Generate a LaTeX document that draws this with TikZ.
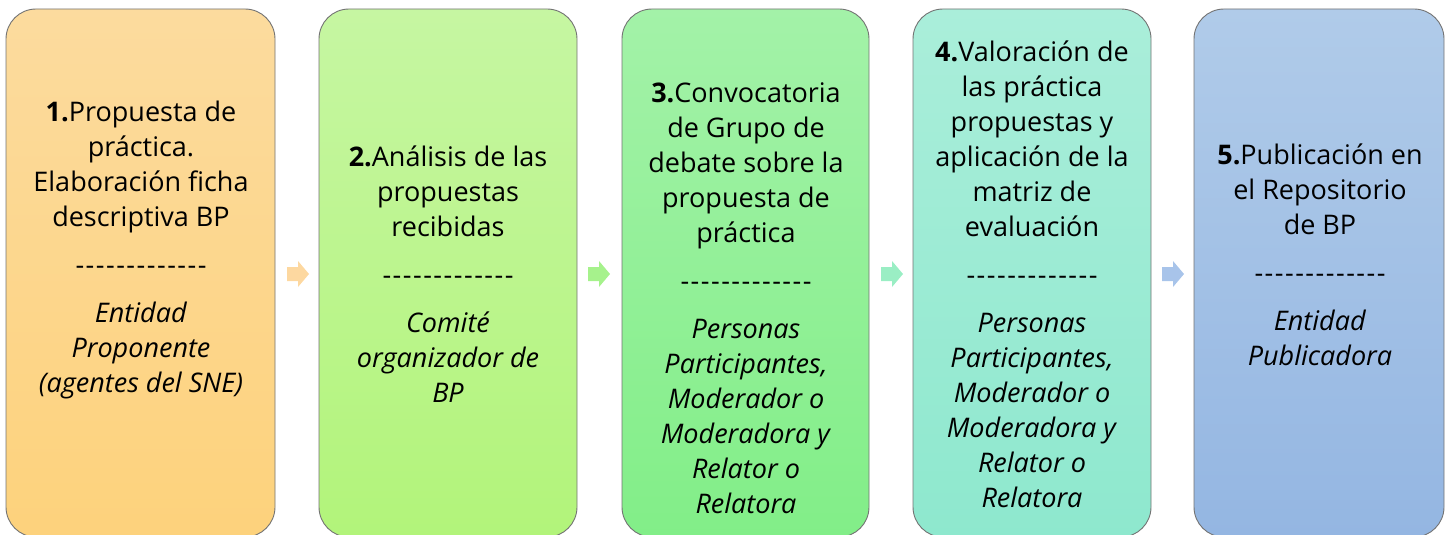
\documentclass[tikz,border=0pt]{standalone}
\usepackage{fontspec}
\setmainfont{Open Sans}
\newcommand{\dashrow}{-\foreach \k in {1,...,12}{\hspace{1.5pt}-}}
\begin{document}
\begin{tikzpicture}[x=1pt,y=-1pt,
  stepbox/.style={rounded corners=30pt, draw=black!55, line width=0.9pt},
  txt/.style={align=center, font=\fontsize{27}{35}\selectfont, inner sep=0pt}]
\useasboundingbox (0,0) rectangle (1450,535);
\clip (0,0) rectangle (1450,535);
\definecolor{c1t}{RGB}{252,219,158}\definecolor{c1b}{RGB}{253,210,124}
\definecolor{c2t}{RGB}{198,246,162}\definecolor{c2b}{RGB}{178,244,122}
\definecolor{c3t}{RGB}{163,242,168}\definecolor{c3b}{RGB}{130,238,136}
\definecolor{c4t}{RGB}{170,238,218}\definecolor{c4b}{RGB}{142,232,206}
\definecolor{c5t}{RGB}{176,203,233}\definecolor{c5b}{RGB}{148,182,226}
\definecolor{a1c}{RGB}{253,216,160}
\definecolor{a2c}{RGB}{166,242,140}
\definecolor{a3c}{RGB}{154,238,196}
\definecolor{a4c}{RGB}{168,196,234}
% boxes
\path[stepbox, top color=c1t, bottom color=c1b] (6,9) rectangle (275,537);
\path[stepbox, top color=c2t, bottom color=c2b] (319,9) rectangle (577,537);
\path[stepbox, top color=c3t, bottom color=c3b] (622,9) rectangle (869,537);
\path[stepbox, top color=c4t, bottom color=c4b] (913,9) rectangle (1151,537);
\path[stepbox, top color=c5t, bottom color=c5b] (1194,9) rectangle (1444,537);
% arrows
\foreach \ax/\col in {287/a1c, 588/a2c, 881/a3c, 1162/a4c}{
  \fill[\col, shift={(\ax,274)}] (0,-7) -- (11,-7) -- (11,-13) -- (22,0) -- (11,13) -- (11,7) -- (0,7) -- cycle;
}
% texts
\node[txt] (t1) at (141,250) {\textbf{1.}Propuesta de\\práctica.\\Elaboración ficha\\descriptiva BP\\[13pt]\dashrow\\[13pt]\textit{Entidad}\\\textit{Proponente}\\\textit{(agentes del SNE)}};
\node[txt] (t2) at (448,274) {\textbf{2.}Análisis de las\\propuestas\\recibidas\\[13pt]\dashrow\\[13pt]\textit{Comité}\\\textit{organizador de}\\\textit{BP}};
\node[txt] (t3) at (746,298) {\textbf{3.}Convocatoria\\de Grupo de\\debate sobre la\\propuesta de\\práctica\\[13pt]\dashrow\\[13pt]\textit{Personas}\\\textit{Participantes,}\\\textit{Moderador o}\\\textit{Moderadora y}\\\textit{Relator o}\\\textit{Relatora}};
\node[txt] (t4) at (1032,274) {\textbf{4.}Valoración de\\las práctica\\propuestas y\\aplicación de la\\matriz de\\evaluación\\[13pt]\dashrow\\[13pt]\textit{Personas}\\\textit{Participantes,}\\\textit{Moderador o}\\\textit{Moderadora y}\\\textit{Relator o}\\\textit{Relatora}};
\node[txt] (t5) at (1320,255) {\textbf{5.}Publicación en\\el Repositorio\\de BP\\[13pt]\dashrow\\[13pt]\textit{Entidad}\\\textit{Publicadora}};
\end{tikzpicture}
\end{document}
